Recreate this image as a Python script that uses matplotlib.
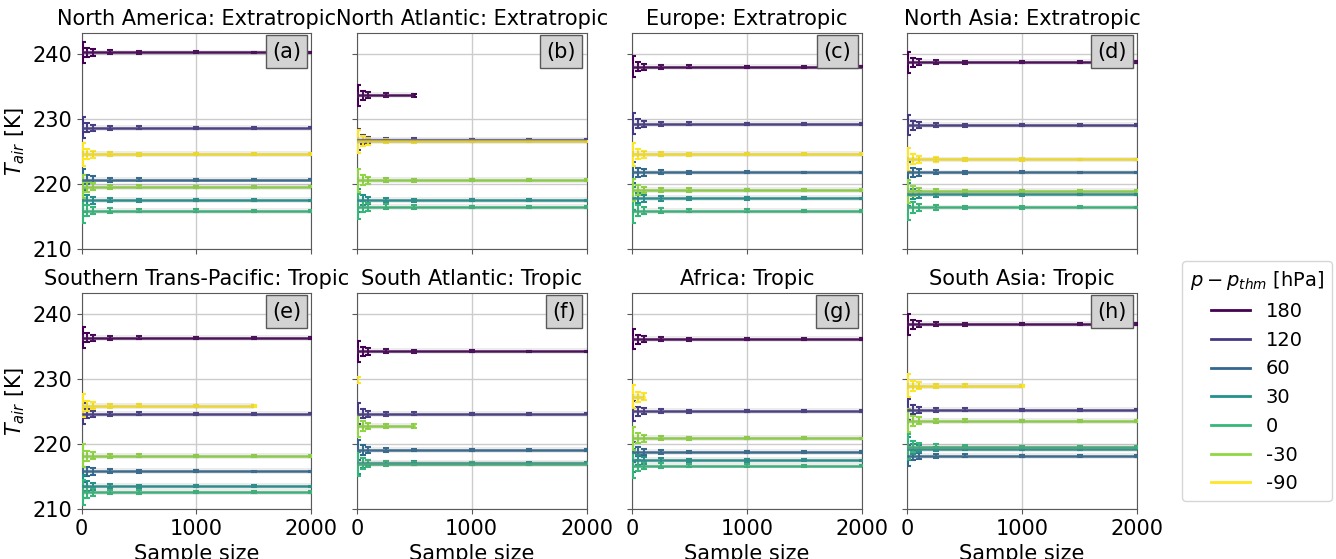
import numpy as np
import matplotlib
matplotlib.use("Agg")
import matplotlib.pyplot as plt
from matplotlib.lines import Line2D

# ---------------- data ----------------
titles = ["North America: Extratropic", "North Atlantic: Extratropic",
          "Europe: Extratropic", "North Asia: Extratropic",
          "Southern Trans-Pacific: Tropic", "South Atlantic: Tropic",
          "Africa: Tropic", "South Asia: Tropic"]
panel_labels = ["(a)", "(b)", "(c)", "(d)", "(e)", "(f)", "(g)", "(h)"]
levels = ["180", "120", "60", "30", "0", "-30", "-90"]
sample_sizes = [10, 50, 100, 250, 500, 1000, 1500, 2000]
# error half-width at each sample size (K)
err_by_n = [1.6, 0.7, 0.48, 0.3, 0.22, 0.16, 0.13, 0.11]
err_scale = [1.0, 1.0, 1.0, 1.1, 1.2, 1.1, 1.1]

# mean T_air per panel, in order of levels (nan = not present)
means_a = [240.3, 228.7, 220.7, 217.5, 215.9, 219.6, 224.6]
means_b = [233.7, 226.85, np.nan, 217.5, 216.5, 220.6, 226.6]
means_c = [238.1, 229.3, 221.8, 217.8, 215.9, 219.1, 224.6]
means_d = [238.8, 229.1, 221.8, 218.4, 216.4, 218.9, 223.8]
means_e = [236.4, 224.7, 215.8, 213.5, 212.6, 218.2, 225.9]
means_f = [234.3, 224.7, 219.1, 217.1, 217.0, 222.8, 229.9]
means_g = [236.2, 225.1, 218.8, 217.5, 216.7, 220.9, 227.3]
means_h = [238.5, 225.3, 218.2, 219.3, 219.6, 223.6, 229.0]
all_means = [means_a, means_b, means_c, means_d, means_e, means_f, means_g, means_h]

# largest sample size available per line
nmax_a = [2000] * 7
nmax_b = [500, 2000, 0, 2000, 2000, 2000, 2000]
nmax_c = [2000] * 7
nmax_d = [2000] * 7
nmax_e = [2000, 2000, 2000, 2000, 2000, 2000, 1500]
nmax_f = [2000, 2000, 2000, 2000, 2000, 500, 10]
nmax_g = [2000, 2000, 2000, 2000, 2000, 2000, 100]
nmax_h = [2000, 2000, 2000, 2000, 2000, 2000, 1000]
all_nmax = [nmax_a, nmax_b, nmax_c, nmax_d, nmax_e, nmax_f, nmax_g, nmax_h]
# special error factor for the single-point line in (f)
special_err = {(5, 6): 0.3}

band_halfwidth = 0.45

# ---------------- plot ----------------
plt.rcParams["font.family"] = "DejaVu Sans"
fig, axes = plt.subplots(2, 4, figsize=(13.36, 5.59), dpi=100,
                         sharex=True, sharey=True)
fig.subplots_adjust(left=0.0611, right=0.851, top=0.941, bottom=0.0894,
                    wspace=0.198, hspace=0.204)

cmap = plt.get_cmap("viridis")
colors = [cmap(i / (len(levels) - 1)) for i in range(len(levels))]
ns = np.array(sample_sizes)

for p, ax in enumerate(axes.flat):
    means = all_means[p]
    nmax = all_nmax[p]
    for li in range(len(levels)):
        m = means[li]
        if np.isnan(m) or nmax[li] == 0:
            continue
        sel = ns <= nmax[li]
        x = ns[sel]
        fac = special_err.get((p, li), err_scale[li])
        e = np.array(err_by_n)[sel] * fac
        y = np.full(len(x), m)
        ax.errorbar(x, y, yerr=e, color=colors[li], lw=1.8, elinewidth=1.5,
                    capsize=2, capthick=1.5, zorder=3)
        ax.fill_between([0, x[-1] if x[-1] > 10 else 10], m - band_halfwidth,
                        m + band_halfwidth, color="gray", alpha=0.15,
                        lw=0, zorder=4)
    ax.set_title(titles[p], fontsize=15)
    ax.grid(True, color="0.8", lw=1)
    ax.set_axisbelow(True)
    for s in ax.spines.values():
        s.set_color("0.35")
    ax.tick_params(labelsize=15, color="0.35")
    ax.text(0.955, 0.96, panel_labels[p], transform=ax.transAxes,
            ha="right", va="top", fontsize=15, zorder=10,
            bbox=dict(boxstyle="square,pad=0.3", fc="lightgray", ec="0.35"))

ax0 = axes[0, 0]
ax0.set_xlim(0, 2000)
ax0.set_ylim(210, 243.3)
ax0.set_yticks([210, 220, 230, 240])
ax0.set_xticks([0, 1000, 2000])
for ax in axes[1]:
    ax.set_xlabel("Sample size", fontsize=15)
for ax in axes[:, 0]:
    ax.set_ylabel(r"$T_{air}$ [K]", fontsize=15)

handles = [Line2D([], [], color=c, lw=2) for c in colors]
leg = fig.legend(handles, levels, title=r"$p-p_{thm}$ [hPa]",
                 loc="center left", bbox_to_anchor=(0.8847, 0.318),
                 borderaxespad=0, fontsize=14, title_fontsize=14,
                 frameon=True)

fig.savefig("out.png", dpi=100)
